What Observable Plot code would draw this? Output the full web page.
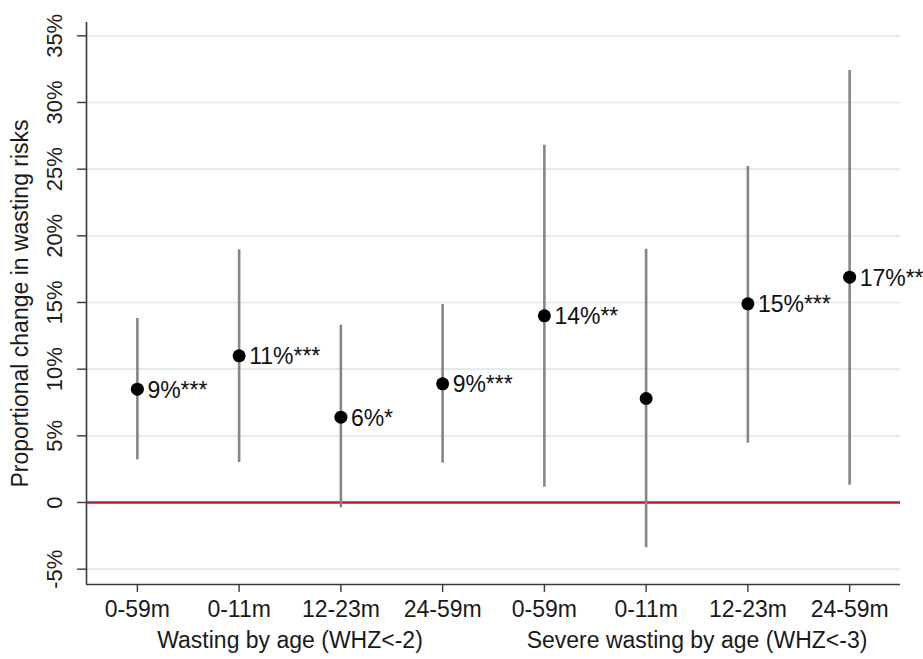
<!DOCTYPE html>
<html>
<head>
<meta charset="utf-8">
<script src="https://cdn.jsdelivr.net/npm/d3@7"></script>
<script src="https://cdn.jsdelivr.net/npm/@observablehq/plot@0.6"></script>
<style>
  html, body { margin: 0; padding: 0; background: #fff; }
  #chart svg { display: block; font-family: "Liberation Sans", Arial, sans-serif; }
</style>
</head>
<body>
<div id="chart"></div>
<script>
// ---- data ----
const groupNames = ["Wasting by age (WHZ<-2)", "Severe wasting by age (WHZ<-3)"];
const ageLabels = ["0-59m", "0-11m", "12-23m", "24-59m", "0-59m", "0-11m", "12-23m", "24-59m"];
const groupIndex = [0, 0, 0, 0, 1, 1, 1, 1];
const estimate = [8.5, 11.0, 6.4, 8.9, 14.0, 7.8, 14.9, 16.9];
const lower = [3.2, 3.0, -0.4, 2.95, 1.15, -3.4, 4.45, 1.3];
const upper = [13.8, 18.95, 13.3, 14.85, 26.8, 19.0, 25.2, 32.4];
const pointLabels = ["9%***", "11%***", "6%*", "9%***", "14%**", "", "15%***", "17%**"];
const yTicks = [-5, 0, 5, 10, 15, 20, 25, 30, 35];
const yTitle = "Proportional change in wasting risks";

// ---- table built from arrays ----
const rows = ageLabels.map((a, i) => ({
  pos: i + 1, age: a, group: groupIndex[i],
  est: estimate[i], lo: lower[i], hi: upper[i], label: pointLabels[i]
}));
const groupRows = groupNames.map((g, gi) => ({
  name: g,
  pos: d3.mean(rows.filter(r => r.group === gi), r => r.pos)
}));

const fontSize = 23;
const chart = Plot.plot({
  width: 923,
  height: 659,
  marginLeft: 86,
  marginRight: 23,
  marginTop: 22,
  marginBottom: 75,
  style: { fontFamily: "'Liberation Sans', Arial, sans-serif", fontSize: fontSize + "px", color: "#1a1a1a", background: "#fff" },
  x: { domain: [0.5, ageLabels.length + 0.5] },
  y: { domain: [-6.15, 36.0] },
  marks: [
    Plot.gridY(yTicks.filter(d => d !== 0), { stroke: "#dfe9eb", strokeOpacity: 1, strokeWidth: 1.6 }),
    Plot.ruleY([0], { stroke: "#b3203a", strokeWidth: 2.5 }),
    Plot.ruleX([0.5], { stroke: "#3a3a3a", strokeWidth: 1.6 }),
    Plot.ruleY([-6.15], { stroke: "#3a3a3a", strokeWidth: 1.6 }),
    Plot.axisY({
      ticks: yTicks,
      tickSize: 9,
      tickPadding: 16,
      tickRotate: -90,
      tickFormat: d => d === 0 ? "0" : d + "%",
      fontSize: 22,
      stroke: "#3a3a3a",
      strokeWidth: 1.4,
      label: null
    }),
    Plot.axisX({
      ticks: rows.map(r => r.pos),
      tickSize: 8,
      tickPadding: 8,
      tickFormat: p => ageLabels[p - 1],
      fontSize: fontSize,
      stroke: "#3a3a3a",
      strokeWidth: 1.4,
      label: null
    }),
    Plot.text([yTitle], { frameAnchor: "left", textAnchor: "middle", rotate: -90, dx: -66, fontSize: fontSize, fill: "#1a1a1a" }),
    Plot.text(groupRows, { x: "pos", text: "name", frameAnchor: "bottom", dy: 63, fontSize: fontSize, fill: "#1a1a1a" }),
    Plot.ruleX(rows, { x: "pos", y1: "lo", y2: "hi", stroke: "#858585", strokeWidth: 2.6 }),
    Plot.dot(rows, { x: "pos", y: "est", r: 6.5, fill: "#000", stroke: "none" }),
    Plot.text(rows, { x: "pos", y: "est", text: "label", textAnchor: "start", dx: 10, dy: 1, fontSize: 23, fill: "#111" })
  ]
});
document.getElementById("chart").appendChild(chart);
</script>
</body>
</html>
